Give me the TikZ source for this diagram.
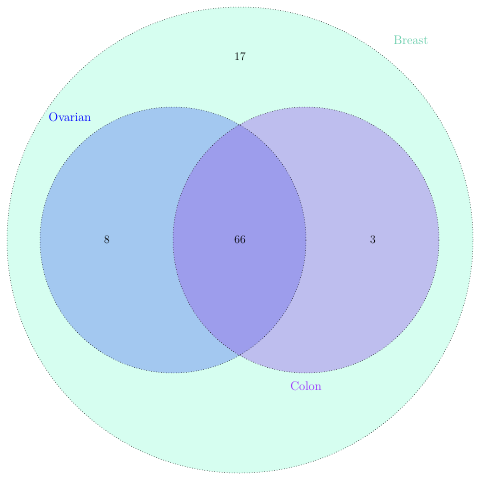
\documentclass[tikz,border=0pt]{standalone}
\usepackage{tikz}

\definecolor{breastfill}{RGB}{214,254,240}
\definecolor{ovarianfill}{RGB}{163,200,240}
\definecolor{colonfill}{RGB}{190,190,238}
\definecolor{bothfill}{RGB}{157,157,236}
\definecolor{breasttext}{RGB}{102,205,170}
\definecolor{colontext}{RGB}{155,48,255}

\begin{document}
\begin{tikzpicture}[
    x=1pt, y=-1pt,
    setline/.style={draw=black, dotted, line width=0.5pt},
    setlabel/.style={font=\fontsize{12.5}{14}\selectfont, inner sep=0pt},
    countlabel/.style={font=\fontsize{11.5}{13}\selectfont, inner sep=0pt}
]
\useasboundingbox (0,0) rectangle (480,480);
\fill[white] (0,0) rectangle (480,480);
% sets
\fill[breastfill] (240,240) circle (233);
\fill[ovarianfill] (173,240) circle (133);
\fill[colonfill] (306,240) circle (133);
\begin{scope}
  \clip (173,240) circle (133);
  \fill[bothfill] (306,240) circle (133);
\end{scope}
\node[setline, circle, minimum size=466pt, inner sep=0pt](breast) at (240,240){};
\node[setline, circle, minimum size=266pt, inner sep=0pt](ovarian) at (173,240){};
\node[setline, circle, minimum size=266pt, inner sep=0pt](colon) at (306,240){};
% labels
\node[setlabel, text=breasttext](breastname) at (411,40){Breast};
\node[setlabel, text=blue](ovarianname) at (70,117){Ovarian};
\node[setlabel, text=colontext](colonname) at (306,386){Colon};
\node[countlabel](nbreast) at (240,57){17};
\node[countlabel](novarian) at (107,240){8};
\node[countlabel](nboth) at (240,240){66};
\node[countlabel](ncolon) at (373,240){3};
\end{tikzpicture}
\end{document}
